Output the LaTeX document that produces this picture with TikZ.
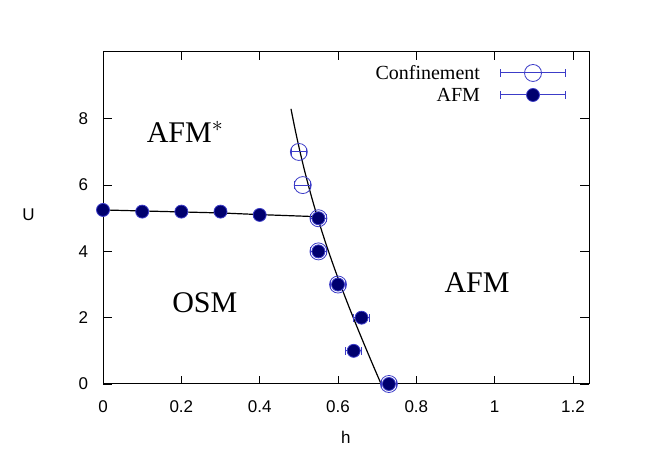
\documentclass[tikz,border=0pt]{standalone}
\usepackage{fontspec}
\setmainfont{Liberation Serif}
\newfontfamily\tickf{Liberation Sans}
\definecolor{navy}{RGB}{0,0,110}
\definecolor{eb}{RGB}{60,60,200}
\begin{document}
\begin{tikzpicture}[x=0.5pt,y=0.5pt,
  tick/.style={font=\tickf\fontsize{8.5}{9}\selectfont},
  filled/.style={circle,fill=navy,draw=eb,inner sep=0pt,minimum size=6.5pt},
  openc/.style={circle,draw=eb,inner sep=0pt,minimum size=8.5pt},
  ebar/.style={draw=eb,line width=0.5pt}]
\useasboundingbox (0,0) rectangle (664,475);
\fill[white] (0,0) rectangle (664,475);
\begin{scope}[shift={(103,91)},xscale=391.7,yscale=33.15]
\draw[line width=0.5pt] (0,0) rectangle (1.241,10.02);
\foreach \v/\t in {0/0,0.2/0.2,0.4/0.4,0.6/0.6,0.8/0.8,1/1,1.2/1.2}{
  \draw (\v,0) -- ++(0,0.25); \draw (\v,10.02) -- ++(0,-0.25);
  \node[tick,anchor=north] at (\v,-0.3) {\t};}
\foreach \v in {0,2,4,6,8}{
  \draw (0,\v) -- ++(0.022,0); \draw (1.241,\v) -- ++(-0.022,0);
  \node[tick,anchor=east] at (-0.02,\v) {\v};}
\node[tick] at (0.62,-1.6) {h};
\node[tick] at (-0.19,5.1) {U};
\node[font=\fontsize{15}{16}\selectfont] at (0.21,7.6) {AFM$^{*}$};
\node[font=\fontsize{15}{16}\selectfont] at (0.26,2.45) {OSM};
\node[font=\fontsize{15}{16}\selectfont] at (0.955,3.05) {AFM};
\draw[line width=0.6pt] (0,5.25) -- (0.1,5.22) -- (0.2,5.19) -- (0.3,5.16) -- (0.4,5.11) -- (0.54,5.05);
\draw[line width=0.6pt] (0.48,8.3) .. controls (0.53,5.2) and (0.6,3.0) .. (0.71,0);
\foreach \x/\y in {0.5/7,0.51/6,0.55/5,0.55/4,0.6/3,0.66/2,0.64/1,0.73/0}{
  \draw[ebar] (\x-0.02,\y) -- (\x+0.02,\y);
  \draw[ebar] (\x-0.02,\y-0.12) -- (\x-0.02,\y+0.12);
  \draw[ebar] (\x+0.02,\y-0.12) -- (\x+0.02,\y+0.12);}
\foreach \x/\y [count=\i] in {0.5/7,0.51/6,0.55/5,0.55/4,0.6/3,0.73/0}
  \node[openc] (c\i) at (\x,\y) {};
\foreach \x/\y [count=\i] in {0/5.25,0.1/5.2,0.2/5.2,0.3/5.2,0.4/5.1,0.55/5,0.55/4,0.6/3,0.66/2,0.64/1,0.73/0}
  \node[filled] (f\i) at (\x,\y) {};
\end{scope}
\node[anchor=east,font=\fontsize{10}{11}\selectfont] (l1) at (487,402) {Confinement};
\node[anchor=east,font=\fontsize{10}{11}\selectfont] (l2) at (487,380) {AFM};
\draw[ebar] (500,402) -- (565,402) (500,398) -- (500,406) (565,398) -- (565,406);
\draw[ebar] (500,380) -- (565,380) (500,376) -- (500,384) (565,376) -- (565,384);
\node[openc] (lc) at (533,402) {};
\node[filled] (lf) at (533,380) {};
\end{tikzpicture}
\end{document}
